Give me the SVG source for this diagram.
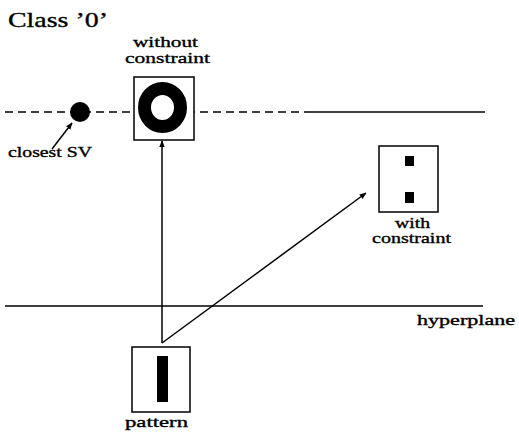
<svg xmlns="http://www.w3.org/2000/svg" width="519" height="434" viewBox="0 0 519 434">
  <style>
    text { font-family: "Liberation Serif", "Times New Roman", serif; fill: #000; stroke: #000; stroke-width: 0.35; }
    .lbl { font-size: 15px; }
    .box { fill: #fff; stroke: #000; stroke-width: 1.5; }
    .ln { stroke: #000; stroke-width: 1.5; fill: none; }
  </style>
  <defs>
    <marker id="arrow" viewBox="0 0 10 10" refX="9" refY="5" markerWidth="7" markerHeight="7" orient="auto" markerUnits="userSpaceOnUse">
      <path d="M0,1 L10,5 L0,9 z" fill="#000"/>
    </marker>
  </defs>

  <rect width="519" height="434" fill="#fff"/>

  <text x="8" y="27" font-size="22" textLength="100" lengthAdjust="spacingAndGlyphs">Class ’0’</text>

  <!-- class margin line: dashed near the support vector, solid further right -->
  <g id="margin">
    <line class="ln" x1="5" y1="112" x2="312" y2="112" stroke-dasharray="8,5"/>
    <line class="ln" x1="312" y1="112" x2="485" y2="112"/>
  </g>

  <!-- separating hyperplane -->
  <g id="hyperplane">
    <line class="ln" x1="5" y1="306" x2="483" y2="306"/>
    <text class="lbl" x="417" y="325" textLength="98" lengthAdjust="spacingAndGlyphs">hyperplane</text>
  </g>

  <g id="closest-sv">
    <circle cx="80" cy="112" r="10" fill="#000"/>
    <text class="lbl" x="8" y="157" textLength="84" lengthAdjust="spacingAndGlyphs">closest SV</text>
  </g>

  <g id="connectors">
    <line class="ln" x1="52" y1="149" x2="72" y2="123" marker-end="url(#arrow)"/>
    <line class="ln" x1="162" y1="343" x2="162" y2="141" marker-end="url(#arrow)"/>
    <line class="ln" x1="162" y1="343" x2="366" y2="193" marker-end="url(#arrow)"/>
  </g>

  <g id="without-constraint">
    <rect class="box" x="134" y="77" width="60" height="63"/>
    <ellipse cx="162.5" cy="107.5" rx="18" ry="19" fill="none" stroke="#000" stroke-width="13"/>
    <text class="lbl" x="133" y="47" textLength="65" lengthAdjust="spacingAndGlyphs">without</text>
    <text class="lbl" x="125" y="63" textLength="85" lengthAdjust="spacingAndGlyphs">constraint</text>
  </g>

  <g id="with-constraint">
    <rect class="box" x="379" y="146" width="59" height="66"/>
    <rect x="405" y="156" width="9" height="10" fill="#000"/>
    <rect x="405" y="192" width="9" height="11" fill="#000"/>
    <text class="lbl" x="395" y="228" textLength="35" lengthAdjust="spacingAndGlyphs">with</text>
    <text class="lbl" x="372" y="243" textLength="79" lengthAdjust="spacingAndGlyphs">constraint</text>
  </g>

  <g id="pattern">
    <rect class="box" x="132" y="347" width="58" height="65"/>
    <rect x="157" y="356" width="11" height="46" fill="#000"/>
    <text class="lbl" x="125" y="427" textLength="63" lengthAdjust="spacingAndGlyphs">pattern</text>
  </g>
</svg>
